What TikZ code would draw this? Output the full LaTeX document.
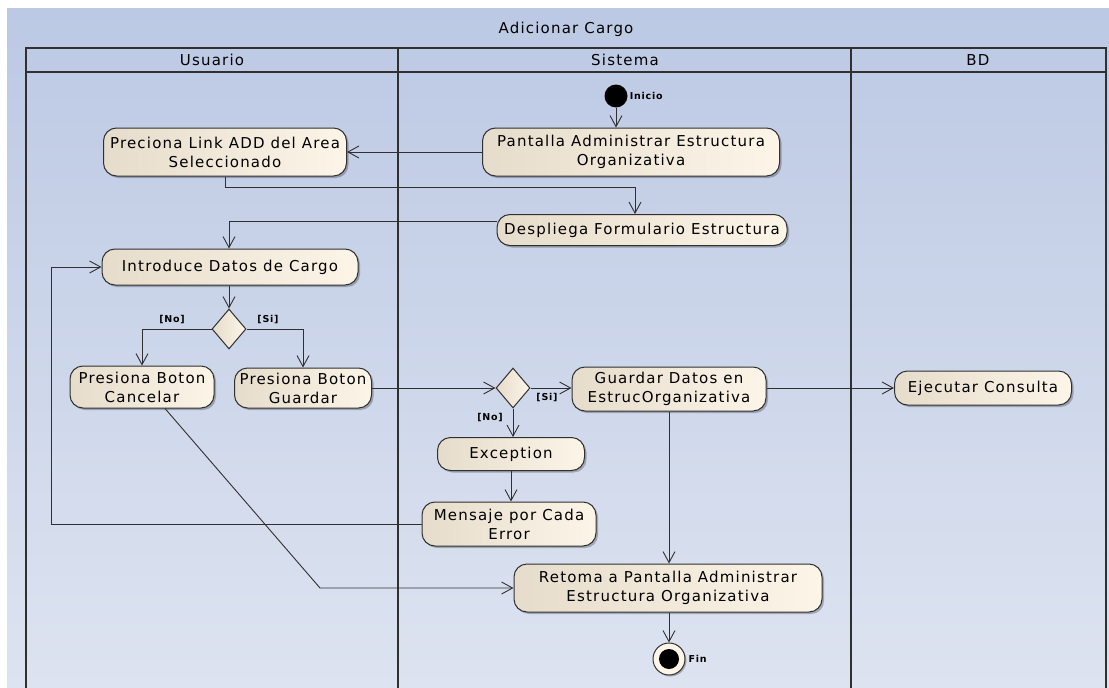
\documentclass[tikz,border=0pt]{standalone}
\usepackage{fontspec}
\setmainfont{DejaVu Sans}[LetterSpace=8]
\usetikzlibrary{shapes.geometric,arrows.meta,calc,shadows}
\definecolor{laneTop}{RGB}{188,201,228}
\definecolor{laneBot}{RGB}{221,227,240}
\definecolor{actL}{RGB}{230,220,203}
\definecolor{actR}{RGB}{252,245,232}
\definecolor{ink}{RGB}{48,48,48}

\tikzset{
  act/.style={draw=ink, line width=1pt, rounded corners=13pt,
    left color=actL, right color=actR, align=center, inner sep=2pt,
    font=\fontsize{15}{19}\selectfont,
    drop shadow={shadow xshift=2pt, shadow yshift=-2pt, opacity=0.25, fill=black}},
  dec/.style={diamond, draw=ink, line width=1pt, left color=actL, right color=actR,
    inner sep=0pt, minimum width=34pt, minimum height=40pt},
  flow/.style={draw=ink, line width=0.9pt, -{Straight Barb[length=11pt,width=12pt,line width=0.9pt]}},
  guard/.style={font=\bfseries\fontsize{9.5}{11}\selectfont},
  lanehead/.style={font=\fontsize{15}{18}\selectfont},
  lane/.style={draw=ink, line width=1.1pt},
}

\begin{document}
\begin{tikzpicture}[x=1pt, y=-1pt]
  \useasboundingbox (0,0) rectangle (1109,688);
  \fill[white] (0,0) rectangle (1109,688);
  % activity frame
  \shade[top color=laneTop, bottom color=laneBot] (7,8) rectangle (1109,688);
  \node[lanehead] (title) at (566,29) {Adicionar Cargo};

  % swimlanes
  \draw[lane] (26,688) -- (26,48) -- (1106,48) -- (1106,688);
  \draw[lane] (26,72) -- (1106,72);
  \draw[lane] (398,48) -- (398,688);
  \draw[lane] (851,48) -- (851,688);
  \node[lanehead] (lU) at (212,60) {Usuario};
  \node[lanehead] (lS) at (625,60) {Sistema};
  \node[lanehead] (lB) at (978,60) {BD};

  % initial and final nodes
  \node[circle, fill=black, minimum size=23pt, inner sep=0pt] (start) at (616,96) {};
  \node[guard, anchor=west, inner sep=1pt] (startlbl) at ($(start.east)+(1,0)$) {Inicio};

  % actions
  \node[act, minimum width=297pt, minimum height=48pt] (pant) at (631,152)
    {Pantalla Administrar Estructura\\Organizativa};
  \node[act, minimum width=243pt, minimum height=48pt] (prec) at (225,152)
    {Preciona Link ADD del Area\\Seleccionado};
  \node[act, minimum width=290pt, minimum height=31pt] (desp) at (642,230)
    {Despliega Formulario Estructura};
  \node[act, minimum width=256pt, minimum height=36pt] (intro) at (230,267)
    {Introduce Datos de Cargo};
  \node[dec] (d1) at (229,329) {};
  \node[act, minimum width=144pt, minimum height=42pt] (canc) at (142,387)
    {Presiona Boton\\Cancelar};
  \node[act, minimum width=137pt, minimum height=40pt] (guar) at (303,388)
    {Presiona Boton\\Guardar};
  \node[dec] (d2) at (513,388) {};
  \node[act, minimum width=194pt, minimum height=44pt] (gdat) at (669,389)
    {Guardar Datos en\\EstrucOrganizativa};
  \node[act, minimum width=177pt, minimum height=34pt] (ejec) at (983,388)
    {Ejecutar Consulta};
  \node[act, minimum width=147pt, minimum height=33pt] (exc) at (511,454)
    {Exception};
  \node[act, minimum width=174pt, minimum height=44pt] (mens) at (509,524)
    {Mensaje por Cada\\Error};
  \node[act, minimum width=308pt, minimum height=48pt] (ret) at (668,588)
    {Retoma a Pantalla Administrar\\Estructura Organizativa};

  \node[circle, draw=ink, line width=1pt, fill=actR, minimum size=32pt, inner sep=0pt,
        drop shadow={shadow xshift=1.5pt, shadow yshift=-1.5pt, opacity=0.25, fill=black}] (fin) at (669,659) {};
  \fill[black] (fin.center) circle (10pt);
  \node[guard, anchor=west, inner sep=1pt] (finlbl) at ($(fin.east)+(2,0)$) {Fin};

  % control flows
  \draw[flow] (start) -- (pant.north -| start);
  \draw[flow] (pant.west) -- (prec.east);
  \draw[flow] (prec.south) -- ++(0,11) -| ($(desp.north)+(-7,0)$);
  \draw[flow] ($(desp.west)+(0,-9)$) -| ($(intro.north)+(-1,0)$);
  \draw[flow] (intro.south -| d1) -- (d1.north);
  \draw[flow] (d1.west) -| (canc.north);
  \draw[flow] (d1.east) -| (guar.north);
  \node[guard] (gNo1) at (172,320) {[No]};
  \node[guard] (gSi1) at (268,320) {[Si]};
  \draw[flow] (guar.east) -- (d2.west);
  \draw[flow] (d2.east) -- (gdat.west |- d2.east);
  \node[guard] (gSi2) at (547,398) {[Si]};
  \draw[flow] (gdat.east |- ejec.west) -- (ejec.west);
  \draw[flow] (d2.south) -- (exc.north -| d2.south);
  \node[guard] (gNo2) at (490,418) {[No]};
  \draw[flow] (exc.south) -- (mens.north -| exc.south);
  \draw[flow] (mens.west) -| ($(intro.west)+(-50,0)$) -- (intro.west);
  \draw[flow] (gdat.south) -- (ret.north -| gdat.south);
  \draw[flow] ($(canc.south)+(23,0)$) -- (320,588) -- (ret.west);
  \draw[flow] (ret.south -| fin) -- (fin.north);
\end{tikzpicture}
\end{document}
